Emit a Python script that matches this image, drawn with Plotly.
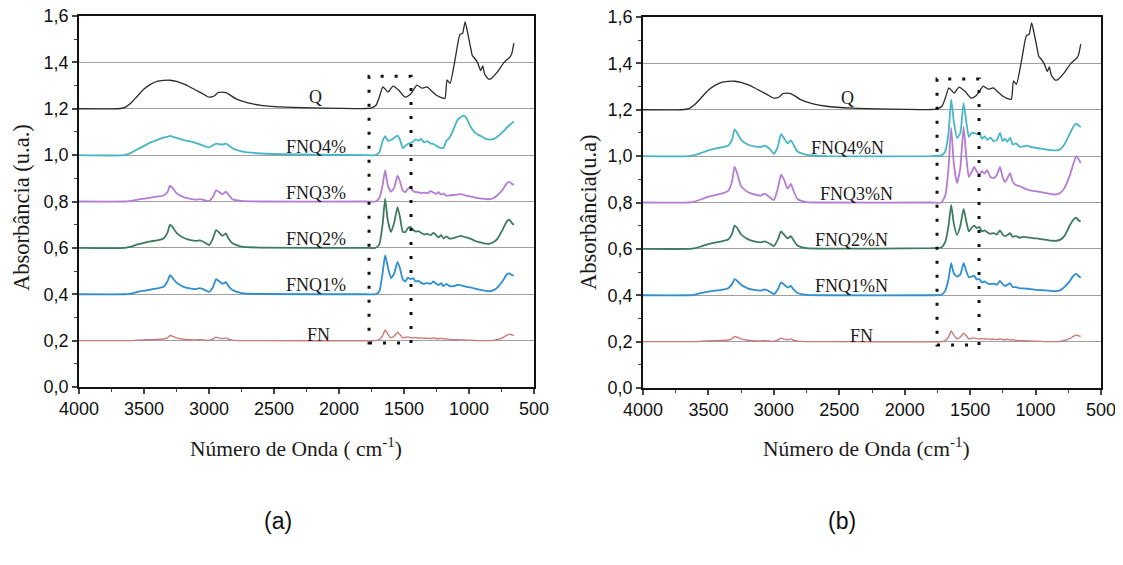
import plotly.graph_objects as go

# ---------------- data ----------------
wn_q = [4000, 3700, 3650, 3600, 3550, 3500, 3450, 3400, 3350, 3300, 3250, 3200, 3150, 3100, 3050, 3000,
        2960, 2930, 2900, 2870, 2840, 2800, 2700, 2600, 2400, 2200, 2000, 1800, 1750, 1715, 1690, 1662,
        1623, 1585, 1540, 1492, 1460, 1438, 1400, 1362, 1323, 1285, 1250, 1223, 1185, 1169, 1146, 1108,
        1070, 1050, 1030, 1015, 990, 975, 960, 935, 910, 895, 880, 850, 830, 780, 730, 685, 670, 655]
ab_q = [1.2, 1.2, 1.205, 1.225, 1.255, 1.285, 1.305, 1.318, 1.322, 1.323, 1.318, 1.308, 1.295, 1.28, 1.265, 1.25,
        1.255, 1.27, 1.272, 1.27, 1.26, 1.245, 1.225, 1.215, 1.207, 1.204, 1.202, 1.201, 1.204, 1.215, 1.25, 1.294,
        1.272, 1.298, 1.28, 1.25, 1.258, 1.272, 1.302, 1.289, 1.294, 1.275, 1.258, 1.25, 1.245, 1.324, 1.31, 1.41,
        1.52, 1.525, 1.575, 1.54, 1.47, 1.43, 1.42, 1.40, 1.365, 1.385, 1.35, 1.328, 1.33, 1.36, 1.40, 1.423, 1.44, 1.483]

wn = [4000, 3650, 3600, 3550, 3500, 3450, 3400, 3350, 3320, 3300, 3280, 3250, 3200, 3150, 3100, 3070, 3030,
      3000, 2970, 2945, 2920, 2895, 2870, 2850, 2820, 2750, 2600, 1800, 1720, 1690, 1665, 1645, 1625, 1600,
      1575, 1550, 1530, 1510, 1490, 1470, 1450, 1430, 1410, 1390, 1370, 1345, 1320, 1295, 1272, 1252, 1235,
      1215, 1195, 1175, 1150, 1120, 1090, 1060, 1040, 1020, 990, 960, 930, 900, 870, 840, 810, 780, 740, 710,
      690, 670, 655]

ab_fnq4 = [1.0, 1.0, 1.01, 1.025, 1.04, 1.055, 1.065, 1.075, 1.079, 1.083, 1.08, 1.074, 1.066, 1.06, 1.052, 1.046, 1.038,
           1.033, 1.042, 1.05, 1.047, 1.045, 1.05, 1.043, 1.03, 1.016, 1.007, 1.0, 1.0, 1.012, 1.06, 1.082, 1.062, 1.065,
           1.075, 1.084, 1.065, 1.03, 1.04, 1.048, 1.052, 1.058, 1.068, 1.062, 1.07, 1.055, 1.06, 1.05, 1.048, 1.04, 1.035,
           1.03, 1.032, 1.06, 1.075, 1.11, 1.15, 1.165, 1.17, 1.16, 1.125, 1.1, 1.088, 1.08, 1.07, 1.067, 1.07, 1.08, 1.1, 1.118,
           1.128, 1.138, 1.145]
ab_fnq3 = [0.8, 0.8, 0.803, 0.808, 0.812, 0.817, 0.821, 0.826, 0.84, 0.868, 0.858, 0.836, 0.82, 0.812, 0.808, 0.81, 0.805,
           0.802, 0.82, 0.848, 0.84, 0.832, 0.842, 0.83, 0.81, 0.803, 0.8, 0.8, 0.8, 0.815, 0.87, 0.935, 0.87, 0.842,
           0.86, 0.912, 0.885, 0.848, 0.84, 0.855, 0.86, 0.845, 0.84, 0.84, 0.836, 0.838, 0.835, 0.845, 0.838, 0.833, 0.84,
           0.83, 0.835, 0.825, 0.826, 0.828, 0.83, 0.832, 0.828, 0.825, 0.822, 0.818, 0.815, 0.812, 0.81, 0.81, 0.815, 0.828, 0.852, 0.878,
           0.885, 0.876, 0.872]
ab_fnq2 = [0.6, 0.6, 0.605, 0.615, 0.622, 0.628, 0.632, 0.64, 0.665, 0.70, 0.69, 0.665, 0.645, 0.635, 0.63, 0.632, 0.622,
           0.612, 0.64, 0.678, 0.665, 0.652, 0.662, 0.64, 0.62, 0.605, 0.601, 0.6, 0.6, 0.615, 0.7, 0.812, 0.72, 0.668,
           0.71, 0.776, 0.73, 0.67, 0.668, 0.685, 0.69, 0.678, 0.67, 0.672, 0.665, 0.658, 0.66, 0.655, 0.665, 0.655, 0.645,
           0.655, 0.64, 0.65, 0.64, 0.642, 0.648, 0.652, 0.648, 0.645, 0.64, 0.632, 0.626, 0.622, 0.618, 0.618, 0.625, 0.64, 0.68, 0.713,
           0.722, 0.707, 0.70]
ab_fnq1 = [0.4, 0.4, 0.403, 0.41, 0.415, 0.42, 0.425, 0.432, 0.455, 0.482, 0.47, 0.45, 0.433, 0.425, 0.422, 0.426, 0.418,
           0.41, 0.43, 0.465, 0.455, 0.445, 0.452, 0.435, 0.418, 0.405, 0.401, 0.4, 0.4, 0.412, 0.49, 0.568, 0.52, 0.47,
           0.49, 0.54, 0.51, 0.465, 0.455, 0.472, 0.465, 0.47, 0.455, 0.458, 0.45, 0.445, 0.448, 0.445, 0.455, 0.445, 0.44,
           0.448, 0.435, 0.445, 0.435, 0.435, 0.44, 0.438, 0.435, 0.432, 0.43, 0.425, 0.421, 0.418, 0.415, 0.413, 0.418, 0.43, 0.458, 0.485,
           0.49, 0.483, 0.48]
ab_fn = [0.2, 0.2, 0.2, 0.202, 0.203, 0.204, 0.205, 0.207, 0.212, 0.222, 0.219, 0.212, 0.206, 0.204, 0.203, 0.204, 0.202,
         0.201, 0.207, 0.215, 0.211, 0.208, 0.212, 0.206, 0.202, 0.2, 0.2, 0.199, 0.2, 0.204, 0.22, 0.246, 0.228, 0.212,
         0.22, 0.236, 0.226, 0.212, 0.214, 0.216, 0.213, 0.212, 0.213, 0.211, 0.212, 0.21, 0.21, 0.209, 0.212, 0.209, 0.208,
         0.21, 0.207, 0.208, 0.205, 0.204, 0.204, 0.203, 0.203, 0.202, 0.202, 0.201, 0.2, 0.2, 0.2, 0.2, 0.201, 0.205, 0.213, 0.223,
         0.228, 0.225, 0.222]

ab_fnq4n = [1.0, 1.0, 1.005, 1.015, 1.025, 1.032, 1.038, 1.045, 1.07, 1.115, 1.1, 1.07, 1.05, 1.042, 1.04, 1.045, 1.03,
            1.01, 1.04, 1.095, 1.075, 1.055, 1.068, 1.05, 1.02, 1.005, 1.0, 1.0, 1.003, 1.02, 1.1, 1.245, 1.15, 1.078,
            1.1, 1.229, 1.15, 1.083, 1.1, 1.1, 1.095, 1.1, 1.075, 1.085, 1.07, 1.08, 1.065, 1.07, 1.1, 1.065, 1.075,
            1.062, 1.08, 1.05, 1.055, 1.04, 1.042, 1.045, 1.04, 1.038, 1.035, 1.032, 1.03, 1.027, 1.025, 1.025, 1.03, 1.05, 1.095, 1.128,
            1.14, 1.132, 1.125]
ab_fnq3n = [0.8, 0.8, 0.805, 0.815, 0.825, 0.832, 0.838, 0.85, 0.89, 0.955, 0.925, 0.87, 0.845, 0.835, 0.83, 0.838, 0.822,
            0.81, 0.86, 0.92, 0.895, 0.86, 0.88, 0.85, 0.815, 0.802, 0.8, 0.8, 0.8, 0.83, 0.95, 1.122, 0.97, 0.884,
            0.95, 1.126, 1.0, 0.91, 0.93, 0.953, 0.935, 0.919, 0.935, 0.925, 0.94, 0.91, 0.905, 0.92, 0.953, 0.91, 0.888,
            0.905, 0.927, 0.89, 0.875, 0.87, 0.862, 0.855, 0.852, 0.85, 0.848, 0.845, 0.842, 0.838, 0.835, 0.835, 0.842, 0.862, 0.915, 0.968,
            1.0, 0.985, 0.97]
ab_fnq2n = [0.6, 0.6, 0.603, 0.612, 0.62, 0.627, 0.632, 0.64, 0.665, 0.70, 0.69, 0.662, 0.642, 0.632, 0.628, 0.632, 0.622,
            0.612, 0.64, 0.675, 0.66, 0.645, 0.655, 0.638, 0.615, 0.603, 0.601, 0.603, 0.606, 0.63, 0.7, 0.79, 0.71, 0.66,
            0.7, 0.772, 0.72, 0.675, 0.69, 0.7, 0.69, 0.695, 0.675, 0.68, 0.672, 0.665, 0.668, 0.662, 0.68, 0.662, 0.655,
            0.66, 0.668, 0.652, 0.655, 0.648, 0.652, 0.65, 0.648, 0.646, 0.645, 0.642, 0.64, 0.637, 0.635, 0.635, 0.64, 0.655, 0.7, 0.726,
            0.735, 0.722, 0.718]
ab_fnq1n = [0.4, 0.4, 0.403, 0.41, 0.416, 0.42, 0.423, 0.43, 0.448, 0.47, 0.462, 0.445, 0.43, 0.423, 0.42, 0.425, 0.415,
            0.405, 0.425, 0.455, 0.445, 0.433, 0.44, 0.425, 0.41, 0.402, 0.4, 0.4, 0.402, 0.42, 0.47, 0.538, 0.495, 0.48,
            0.49, 0.538, 0.505, 0.478, 0.48, 0.485, 0.468, 0.47, 0.455, 0.46, 0.452, 0.448, 0.45, 0.446, 0.462, 0.448, 0.44,
            0.445, 0.452, 0.435, 0.435, 0.43, 0.43, 0.428, 0.426, 0.425, 0.423, 0.422, 0.421, 0.42, 0.418, 0.418, 0.422, 0.435, 0.46, 0.485,
            0.492, 0.482, 0.475]

# series: (name, x values, y values, colour, width)
left_series = [("Q", wn_q, ab_q, "#2a2a2a", 1.3), ("FNQ4%", wn, ab_fnq4, "#46b6c6", 1.8),
               ("FNQ3%", wn, ab_fnq3, "#b47cd2", 1.8), ("FNQ2%", wn, ab_fnq2, "#3d7b60", 1.8),
               ("FNQ1%", wn, ab_fnq1, "#2e8ecf", 1.8), ("FN", wn, ab_fn, "#c97a7a", 1.4)]
right_series = [("Q", wn_q, ab_q, "#2a2a2a", 1.3), ("FNQ4%N", wn, ab_fnq4n, "#46b6c6", 1.8),
                ("FNQ3%N", wn, ab_fnq3n, "#b47cd2", 1.8), ("FNQ2%N", wn, ab_fnq2n, "#3d7b60", 1.8),
                ("FNQ1%N", wn, ab_fnq1n, "#2e8ecf", 1.8), ("FN", wn, ab_fn, "#c97a7a", 1.4)]

label_y = [1.252, 1.035, 0.836, 0.637, 0.438, 0.226]
left_label_x = [2180, 2180, 2180, 2180, 2180, 2160]
right_label_x = [2440, 2440, 2370, 2410, 2410, 2330]

box_left = dict(x0=1769, x1=1446, y0=0.19, y1=1.34)
box_right = dict(x0=1753, x1=1432, y0=0.185, y1=1.333)

x_ticks = [4000, 3500, 3000, 2500, 2000, 1500, 1000, 500]
y_ticks = [0.0, 0.2, 0.4, 0.6, 0.8, 1.0, 1.2, 1.4, 1.6]

# ---------------- figure ----------------
# the page body has an 8px margin: the figure is placed at (8, 8) of the window
OFF = 8
W, H = 1123 - 2 * OFF, 565 - 2 * OFF


def px(x):
    return (x - OFF) / W


def py(y):
    return 1 - (y - OFF) / H


fig = go.Figure()
for (name, xs, ys, col, w) in left_series:
    fig.add_trace(go.Scatter(x=xs, y=ys, mode="lines", name=name, xaxis="x", yaxis="y",
                             line=dict(color=col, width=w, shape="spline", smoothing=0.5), showlegend=False))
for (name, xs, ys, col, w) in right_series:
    fig.add_trace(go.Scatter(x=xs, y=ys, mode="lines", name=name, xaxis="x2", yaxis="y2",
                             line=dict(color=col, width=w, shape="spline", smoothing=0.5), showlegend=False))

tickfont = dict(family="Liberation Sans, Arial, sans-serif", size=18, color="#111")
xcommon = dict(range=[4000, 500], tickvals=x_ticks, tickformat="d", ticks="outside", ticklen=5, tickwidth=1.5,
               showline=True, linecolor="#111", linewidth=1.6, mirror=True, showgrid=False, zeroline=False,
               automargin=False, ticklabeloverflow="allow", tickfont=tickfont,
               minor=dict(dtick=250, ticks="outside", ticklen=3, tickwidth=1, tick0=500, showgrid=False))
ycommon = dict(range=[0, 1.6], tickvals=y_ticks, tickformat=".1f", ticks="outside", ticklen=5, tickwidth=1.5,
               showline=True, linecolor="#111", linewidth=1.6, mirror=True, showgrid=True, gridcolor="#a0a0a0",
               gridwidth=1, zeroline=False, automargin=False, ticklabeloverflow="allow", tickfont=tickfont,
               minor=dict(dtick=0.1, ticks="outside", ticklen=3, tickwidth=1, tick0=0, showgrid=False))

fig.update_layout(
    width=W, height=H, margin=dict(l=0, r=0, t=0, b=0, autoexpand=False),
    paper_bgcolor="white", plot_bgcolor="white", separators=",.",
    xaxis=dict(domain=[px(79), px(534)], anchor="y", **xcommon),
    yaxis=dict(domain=[py(387), py(16)], anchor="x", **ycommon),
    xaxis2=dict(domain=[px(643), px(1101)], anchor="y2", **xcommon),
    yaxis2=dict(domain=[py(388), py(17)], anchor="x2", **ycommon),
)

serif = "Liberation Serif, Times New Roman, serif"
C = dict(xanchor="center", yanchor="middle", showarrow=False)
ann = []
for (s, lx, ly) in zip(left_series, left_label_x, label_y):
    ann.append(dict(x=lx, y=ly, xref="x", yref="y", text=s[0],
                    font=dict(family=serif, size=18, color="#1a1a1a"), **C))
for (s, lx, ly) in zip(right_series, right_label_x, label_y):
    ann.append(dict(x=lx, y=ly, xref="x2", yref="y2", text=s[0],
                    font=dict(family=serif, size=18, color="#1a1a1a"), **C))

ann += [
    dict(x=px(21), y=py(208), xref="paper", yref="paper", text="Absorbância (u.a.)", textangle=-90,
         font=dict(family=serif, size=22.5, color="#1a1a1a"), **C),
    dict(x=px(589), y=py(212), xref="paper", yref="paper", text="Absorbância(u.a)", textangle=-90,
         font=dict(family=serif, size=22.5, color="#1a1a1a"), **C),
    dict(x=px(296), y=py(447), xref="paper", yref="paper", text="Número de Onda ( cm<sup>-1</sup>)",
         font=dict(family=serif, size=21.5, color="#1a1a1a"), **C),
    dict(x=px(866), y=py(447), xref="paper", yref="paper", text="Número de Onda (cm<sup>-1</sup>)",
         font=dict(family=serif, size=21.5, color="#1a1a1a"), **C),
    dict(x=px(278), y=py(521), xref="paper", yref="paper", text="(a)",
         font=dict(family="Liberation Sans, Arial, sans-serif", size=23, color="#111"), **C),
    dict(x=px(842), y=py(521), xref="paper", yref="paper", text="(b)",
         font=dict(family="Liberation Sans, Arial, sans-serif", size=23, color="#111"), **C),
]
fig.update_layout(annotations=ann)

dot = dict(color="#111", width=3, dash="3px,11px")
fig.add_shape(type="rect", xref="x", yref="y", line=dot, **box_left)
fig.add_shape(type="rect", xref="x2", yref="y2", line=dot, **box_right)

fig.write_html("out.html")
